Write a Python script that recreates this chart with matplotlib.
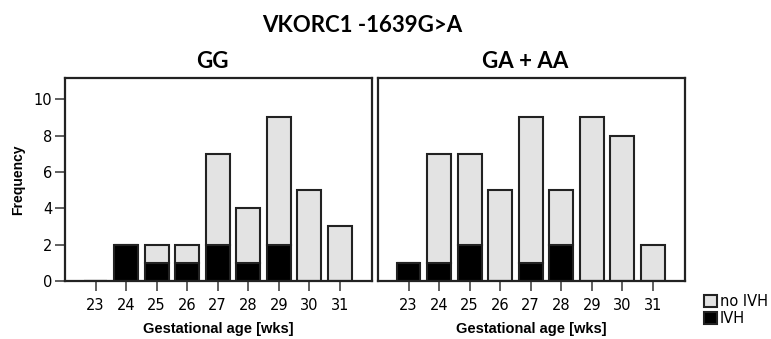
import matplotlib.pyplot as plt
from matplotlib.patches import Patch

# Gestational age bins and counts per genotype panel
weeks = [23, 24, 25, 26, 27, 28, 29, 30, 31]
gg_ivh = [0, 2, 1, 1, 2, 1, 2, 0, 0]
gg_no_ivh = [0, 0, 1, 1, 5, 3, 7, 5, 3]
ga_ivh = [1, 1, 2, 0, 1, 2, 0, 0, 0]
ga_no_ivh = [0, 6, 5, 5, 8, 3, 9, 8, 2]

panels = [("GG", gg_ivh, gg_no_ivh), ("GA + AA", ga_ivh, ga_no_ivh)]

fig = plt.figure(figsize=(7.71, 3.39), dpi=100)
fig.text(362 / 771, 1 - 25 / 339, "VKORC1 -1639G>A", ha='center', va='center',
         fontsize=16, fontweight='bold', family='Lato')

lefts = [65 / 771, 378 / 771]
title_x = [212 / 771, 525 / 771]
for i, (name, ivh, no_ivh) in enumerate(panels):
    ax = fig.add_axes([lefts[i], 1 - 281 / 339, 307 / 771, 203 / 339])
    ax.bar(weeks, ivh, width=0.78, color='black', edgecolor='#222222', linewidth=1.5)
    ax.bar(weeks, no_ivh, bottom=ivh, width=0.78, color='#e3e3e3',
           edgecolor='#222222', linewidth=1.5)
    ax.set_xlim(22, 32.05)
    ax.set_ylim(0, 11.17)
    ax.set_xticks(weeks)
    ax.set_xticklabels([str(w) for w in weeks], fontsize=10.5, family='DejaVu Sans')
    ax.tick_params(axis='x', length=7, width=1.2, color='#444444', pad=5)
    for s in ax.spines.values():
        s.set_linewidth(1.6)
        s.set_color('#222222')
    if i == 0:
        ax.set_yticks([0, 2, 4, 6, 8, 10])
        ax.set_yticklabels(['0', '2', '4', '6', '8', '10'], fontsize=10.5,
                           family='DejaVu Sans')
        ax.tick_params(axis='y', length=7, width=1.2, color='#444444', pad=2)
        ax.set_ylabel("Frequency", fontsize=10, fontweight='bold',
                      family='Liberation Sans', labelpad=6)
    else:
        ax.set_yticks([])
    ax.set_xlabel("Gestational age [wks]", fontsize=10.5, fontweight='bold',
                  family='Liberation Sans', labelpad=7)
    fig.text(title_x[i], 1 - 62 / 339, name, ha='center', va='center',
             fontsize=16, fontweight='bold', family='Lato')

handles = [Patch(facecolor='#e3e3e3', edgecolor='#222222', linewidth=1.5, label='no IVH'),
           Patch(facecolor='black', edgecolor='#222222', linewidth=1.5, label='IVH')]
fig.legend(handles=handles, loc='center left', bbox_to_anchor=(697 / 771, 1 - 310 / 339),
           frameon=False, prop={'family': 'DejaVu Sans', 'size': 10.5},
           handlelength=0.9, handleheight=0.9, handletextpad=0.15, labelspacing=0.15,
           borderpad=0)

fig.savefig("out.png", dpi=100)
